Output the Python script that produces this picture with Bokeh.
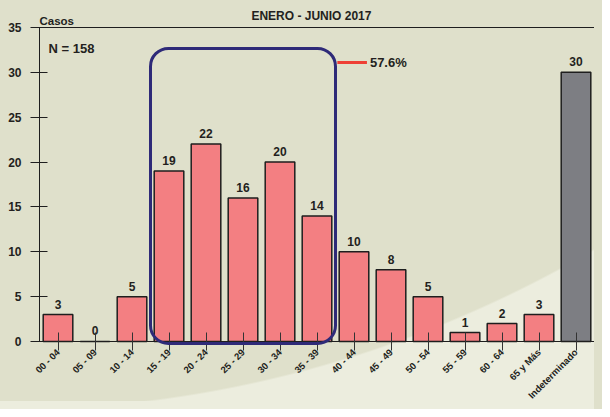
import math
from bokeh.plotting import figure
from bokeh.models import (Range1d, FixedTicker, BoxAnnotation, Label,
                          ColumnDataSource)
from bokeh.core.properties import value
from bokeh.embed import file_html
from bokeh.resources import INLINE

# ---------------- data ----------------
categories = ["00 - 04", "05 - 09", "10 - 14", "15 - 19", "20 - 24", "25 - 29",
              "30 - 34", "35 - 39", "40 - 44", "45 - 49", "50 - 54", "55 - 59",
              "60 - 64", "65 y Más", "Indeterminado"]
casos = [3, 0, 5, 19, 22, 16, 20, 14, 10, 8, 5, 1, 2, 3, 30]
highlight = ["15 - 19", "20 - 24", "25 - 29", "30 - 34", "35 - 39"]
y_ticks = [0, 5, 10, 15, 20, 25, 30, 35]
title_text = "ENERO - JUNIO 2017"
y_label = "Casos"

total = sum(casos)
hl_sum = sum(casos[categories.index(c)] for c in highlight)
pct_text = f"{100 * hl_sum / total:.1f}%"
n_text = f"N = {total}"

FONT = "Liberation Sans"
TXT = "#231f20"
PINK = "#f37f82"
GRAY = "#7d7e83"
CREAM = "#dfe0cb"
LIGHT = "#ecedde"
LINE = "#1e1e1e"
colors = [GRAY if c == "Indeterminado" else PINK for c in categories]

xpos = list(range(len(categories)))
src = ColumnDataSource(dict(x=xpos, casos=casos, color=colors,
                            label=[str(v) for v in casos]))

Y_TOP = y_ticks[-1]
X_LO = -0.5
X_HI = len(categories) - 0.5
p = figure(x_range=Range1d(X_LO - 39 / 37.0, X_HI),
           y_range=Range1d(-6.69, 38.01), width=594, height=401,
           output_backend="svg", toolbar_location=None,
           min_border_left=0, min_border_right=0, min_border_top=0,
           min_border_bottom=0)

p.background_fill_alpha = 0
p.border_fill_alpha = 0
p.outline_line_color = None
p.styles = {
    "background": f"radial-gradient(circle 1166px at 4px -756px, "
                  f"{CREAM} 1165px, {LIGHT} 1167px)",
    "box-shadow": f"0 8px 0 0 {LIGHT}, 0 0 0 8px {CREAM}",
}
p.grid.visible = False

p.vbar(x="x", top="casos", width=0.8, source=src, fill_color="color",
       line_color=LINE, line_width=1.5)
p.text(x="x", y="casos", text="label", source=src, y_offset=-6,
       text_align="center", text_baseline="bottom", text_font=value(FONT),
       text_font_style="bold", text_font_size="12px", text_color=TXT)

# top border line
p.segment(x0=[X_LO], y0=[Y_TOP], x1=[X_HI], y1=[Y_TOP], line_color=LINE,
          line_width=1.2)

# axes
xa = p.xaxis[0]
xa.fixed_location = 0
xa.bounds = (X_LO, X_HI)
xa.ticker = FixedTicker(ticks=xpos)
xa.major_label_overrides = {i: c for i, c in zip(xpos, categories)}
xa.minor_tick_line_color = None
xa.major_label_orientation = math.pi / 4
xa.major_label_text_font = FONT
xa.major_label_text_font_style = "bold"
xa.major_label_text_font_size = "9.5px"
xa.major_label_text_color = TXT
xa.major_label_standoff = 0
xa.major_tick_in = 9
xa.major_tick_out = 9
xa.major_tick_line_color = "#333333"
xa.axis_line_color = LINE

ya = p.yaxis[0]
ya.fixed_location = X_LO
ya.ticker = FixedTicker(ticks=y_ticks)
ya.bounds = (0, Y_TOP)
ya.major_tick_in = 8
ya.major_tick_out = 9
ya.minor_tick_line_color = None
ya.major_tick_line_color = LINE
ya.axis_line_color = LINE
ya.major_label_text_font = FONT
ya.major_label_text_font_style = "bold"
ya.major_label_text_font_size = "12px"
ya.major_label_text_color = TXT
ya.major_label_standoff = 9

# highlight box
i0 = categories.index(highlight[0]) - 0.5
i1 = categories.index(highlight[-1]) + 0.5
p.add_layout(BoxAnnotation(left=i0, right=i1, top=32.67, bottom=-0.22,
                           fill_alpha=0, line_color="#2e2a78", line_alpha=1,
                           line_width=3, border_radius=18))
p.segment(x0=[i1 + 0.05], y0=[31.1], x1=[i1 + 0.85], y1=[31.1],
          line_color="#ee4035", line_width=3)
p.add_layout(Label(x=i1 + 0.93, y=31.1, text=pct_text, text_font=FONT,
                   text_font_style="bold", text_font_size="13px",
                   text_color=TXT, text_baseline="middle"))

p.add_layout(Label(x=X_LO, x_offset=9, y=32.63, text=n_text, text_font=FONT,
                   text_font_style="bold", text_font_size="13px",
                   text_color=TXT, text_baseline="alphabetic"))
p.add_layout(Label(x=X_LO, y=35.78, text=y_label, text_font=FONT,
                   text_font_style="bold", text_font_size="11.5px",
                   text_color=TXT, text_baseline="alphabetic"))
p.add_layout(Label(x=6.85, y=36.23, text=title_text, text_font=FONT,
                   text_font_style="bold", text_font_size="12px",
                   text_color=TXT, text_align="center",
                   text_baseline="alphabetic"))

open("out.html", "w").write(file_html(p, INLINE))
